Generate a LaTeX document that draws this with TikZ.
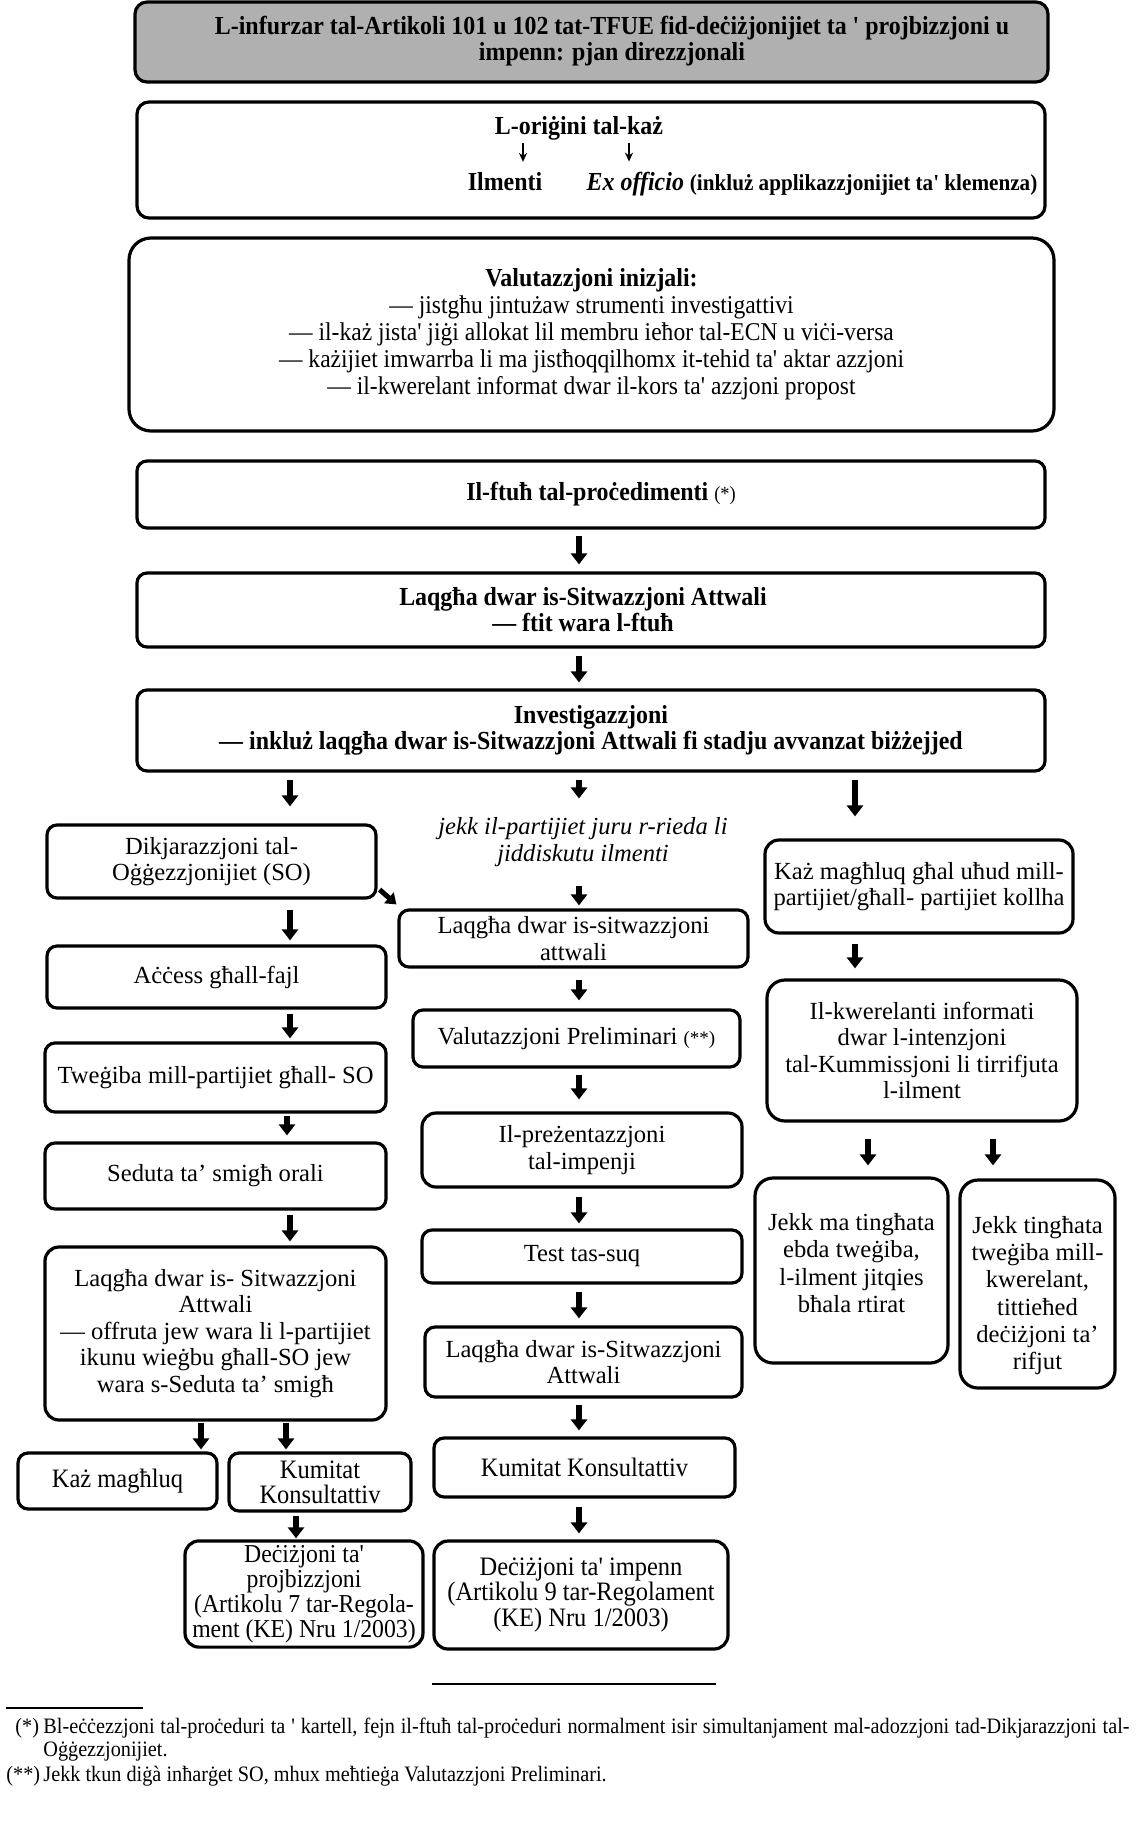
\documentclass[tikz,border=0pt]{standalone}
\usepackage{fontspec}
\setmainfont{Liberation Serif}
\newfontfamily\topfam[FakeStretch=0.92]{Liberation Serif}
\usetikzlibrary{arrows.meta}
\definecolor{titlegray}{RGB}{176,176,176}
\newcommand\myTopB{\topfam\bfseries\fontsize{13pt}{13pt}\selectfont}
\newcommand\myTopSB{\topfam\bfseries\fontsize{11.5pt}{13pt}\selectfont}
\newcommand\myTop{\topfam\mdseries\fontsize{12.8pt}{13.5pt}\selectfont}
\newcommand\myTopS{\topfam\mdseries\fontsize{10pt}{12pt}\selectfont}
\newcommand\myLow{\fontsize{12.3pt}{13.3pt}\selectfont}
\newcommand\myLowR{\fontsize{12.3pt}{13.6pt}\selectfont}
\newcommand\myLowI{\itshape\fontsize{12.3pt}{13.3pt}\selectfont}
\newcommand\myLowS{\fontsize{9.5pt}{12pt}\selectfont}
\newcommand\myBot{\topfam\fontsize{13.3pt}{12.6pt}\selectfont}
\newcommand\myBotS{\topfam\fontsize{12.9pt}{12.6pt}\selectfont}
\newcommand\myFoot{\topfam\fontsize{11pt}{12pt}\selectfont}
\begin{document}
\begin{tikzpicture}[x=0.5pt,y=-0.5pt,
  box/.style={draw, line width=1.6pt, rounded corners=5pt, align=center, inner sep=2pt},
  arr/.style={line width=3pt, -{Triangle[width=8pt,length=5.5pt]}},
  thinarr/.style={line width=0.8pt, -{Stealth[width=4pt,length=4.5pt]}},
  rulel/.style={line width=1pt}]
\fill[white] (0,0) rectangle (1135,1841);
\useasboundingbox (0,0) rectangle (1135,1841);

% column coordinates for arrows
\coordinate (xL) at (290,0);
\coordinate (xL3) at (287,0);
\coordinate (xKM) at (201,0);
\coordinate (xKK) at (286,0);
\coordinate (xDP) at (296,0);
\coordinate (xM) at (579,0);
\coordinate (xR) at (855,0);
\coordinate (xR3) at (868,0);
\coordinate (xR4) at (993,0);
\coordinate (xO1) at (523,0);
\coordinate (xO2) at (629,0);

% ---------- top section ----------
\node[box, fill=titlegray, rounded corners=6pt, minimum width=456.5pt, minimum height=40pt] (title) at (591.5,42) {};
\node[font=\myTopB, align=center] (titleT) at (612,41)
  {L-infurzar tal-Artikoli 101 u 102 tat-TFUE fid-deċiżjonijiet ta ' projbizzjoni u\\impenn: pjan direzzjonali};

\node[box, rounded corners=6pt, minimum width=454pt, minimum height=58pt] (orig) at (591,160) {};
\node[font=\myTopB, anchor=base] (origT) at (579,134) {L-oriġini tal-każ};
\node[font=\myTopB, anchor=base] (ilm) at (505,190) {Ilmenti};
\node[font=\myTopB, anchor=base] (exo) at (812,190) {\textit{Ex officio} {\myTopSB (inkluż applikazzjonijiet ta' klemenza)}};
\draw[thinarr, shorten <=-2pt, shorten >=1.5pt] (origT.south -| xO1) -- (ilm.north -| xO1);
\draw[thinarr, shorten <=-2pt, shorten >=1.5pt] (origT.south -| xO2) -- (exo.north -| xO2);

\node[box, rounded corners=11pt, minimum width=462.5pt, minimum height=96.5pt, font=\myTop] (init) at (591.5,334.5)
  {{\myTopB Valutazzjoni inizjali:}\\
   — jistgħu jintużaw strumenti investigattivi\\
   — il-każ jista' jiġi allokat lil membru ieħor tal-ECN u viċi-versa\\
   — każijiet imwarrba li ma jistħoqqilhomx it-tehid ta' aktar azzjoni\\
   — il-kwerelant informat dwar il-kors ta' azzjoni propost};

\node[box, minimum width=454pt, minimum height=33.5pt, font=\myTopB] (ftuh) at (591,494.5)
  {\hspace*{10pt}Il-ftuħ tal-proċedimenti {\myTopS (*)}};
\node[box, minimum width=454pt, minimum height=37pt, font=\myTopB] (laq1) at (591,610)
  {Laqgħa dwar is-Sitwazzjoni Attwali\hspace*{8pt}\\— ftit wara l-ftuħ\hspace*{8pt}};
\node[box, minimum width=454pt, minimum height=40.5pt, font=\myTopB] (inv) at (591,730.5)
  {Investigazzjoni\\— inkluż laqgħa dwar is-Sitwazzjoni Attwali fi stadju avvanzat biżżejjed};

\draw[arr, shorten <=3pt, shorten >=3.5pt] (ftuh.south -| xM) -- (laq1.north -| xM);
\draw[arr, shorten <=3.5pt, shorten >=3pt] (laq1.south -| xM) -- (inv.north -| xM);

% ---------- left column ----------
\node[box, minimum width=164.5pt, minimum height=36.5pt, font=\myLow] (L1) at (211.5,861.5)
  {Dikjarazzjoni tal-\\Oġġezzjonijiet (SO)};
\node[box, minimum width=169.5pt, minimum height=31pt, font=\myLow] (L2) at (216.5,977)
  {Aċċess għall-fajl};
\node[box, minimum width=170.5pt, minimum height=34.5pt, font=\myLow] (L3) at (215.5,1077.5)
  {Tweġiba mill-partijiet għall- SO};
\node[box, minimum width=170.5pt, minimum height=33pt, font=\myLow] (L4) at (215.5,1176)
  {Seduta ta' smigħ orali};
\node[box, rounded corners=7pt, minimum width=170.5pt, minimum height=86.5pt, font=\myLow] (L5) at (215.5,1333.5)
  {Laqgħa dwar is- Sitwazzjoni\\Attwali\\— offruta jew wara li l-partijiet\\ikunu wieġbu għall-SO jew\\wara s-Seduta ta' smigħ};
\node[box, minimum width=99.5pt, minimum height=28pt, font=\myBot] (KM) at (117.5,1481)
  {Każ magħluq};
\node[box, minimum width=91pt, minimum height=29pt, font=\myBot] (KK1) at (320,1482)
  {Kumitat\\Konsultattiv};
\node[box, rounded corners=7pt, minimum width=119pt, minimum height=53pt, font=\myBotS] (DP) at (304,1594)
  {Deċiżjoni ta'\\projbizzjoni\\(Artikolu 7 tar-Regola-\\ment (KE) Nru 1/2003)};

\draw[arr, shorten <=3.5pt, shorten >=8.5pt] (inv.south -| xL) -- (L1.north -| xL);
\draw[arr, shorten <=5pt, shorten >=2pt] (L1.south -| xL) -- (L2.north -| xL);
\draw[arr, shorten <=2pt, shorten >=1.5pt] (L2.south -| xL) -- (L3.north -| xL);
\draw[arr, shorten <=1pt, shorten >=3pt] (L3.south -| xL3) -- (L4.north -| xL3);
\draw[arr, shorten <=2pt, shorten >=2pt] (L4.south -| xL) -- (L5.north -| xL);
\draw[arr, shorten <=0.5pt, shorten >=1pt] (L5.south -| xKM) -- (KM.north -| xKM);
\draw[arr, shorten <=0.5pt, shorten >=1pt] (L5.south -| xKK) -- (KK1.north -| xKK);
\draw[arr, shorten <=1.5pt, shorten >=0.5pt] (KK1.south -| xDP) -- (DP.north -| xDP);

% ---------- middle column ----------
\node[font=\myLowI, align=center] (jekk) at (583,842)
  {jekk il-partijiet juru r-rieda li\\jiddiskutu ilmenti};
\node[box, minimum width=174.5pt, minimum height=28.5pt, font=\myLow] (M1) at (573.5,938.5)
  {Laqgħa dwar is-sitwazzjoni\\attwali};
\node[box, minimum width=163.5pt, minimum height=28.5pt, font=\myLow] (M2) at (576.5,1038.5)
  {Valutazzjoni Preliminari {\myLowS (**)}};
\node[box, rounded corners=7pt, minimum width=160pt, minimum height=37pt, font=\myLow] (M3) at (582,1150)
  {Il-preżentazzjoni\\tal-impenji};
\node[box, minimum width=160pt, minimum height=26.5pt, font=\myLow] (M4) at (582,1256.5)
  {Test tas-suq};
\node[box, minimum width=158.5pt, minimum height=35pt, font=\myLow] (M5) at (583.5,1362)
  {Laqgħa dwar is-Sitwazzjoni\\Attwali};
\node[box, minimum width=150.5pt, minimum height=29.5pt, font=\myBot] (M6) at (584.5,1467.5)
  {Kumitat Konsultattiv};
\node[box, rounded corners=7pt, minimum width=147pt, minimum height=54pt, font=\myBot] (M7) at (581,1595)
  {Deċiżjoni ta' impenn\\(Artikolu 9 tar-Regolament\\(KE) Nru 1/2003)};

\draw[arr, shorten <=3.5pt, shorten >=6pt] (inv.south -| xM) -- (jekk.north -| xM);
\draw[arr, shorten <=6pt, shorten >=1.5pt] (jekk.south -| xM) -- (M1.north -| xM);
\draw[arr, line width=2.5pt, -{Triangle[width=7pt,length=5pt]}, shorten <=0pt, shorten >=0pt]
  ([xshift=1pt,yshift=5pt]L1.south east) -- ([xshift=-0.5pt,yshift=2pt]M1.north west);
\draw[arr, shorten <=5.5pt, shorten >=4pt] (M1.south -| xM) -- (M2.north -| xM);
\draw[arr, shorten <=3pt, shorten >=6pt] (M2.south -| xM) -- (M3.north -| xM);
\draw[arr, shorten <=4pt, shorten >=2.5pt] (M3.south -| xM) -- (M4.north -| xM);
\draw[arr, shorten <=3.5pt, shorten >=3.5pt] (M4.south -| xM) -- (M5.north -| xM);
\draw[arr, shorten <=3pt, shorten >=3pt] (M5.south -| xM) -- (M6.north -| xM);
\draw[arr, shorten <=4pt, shorten >=3pt] (M6.south -| xM) -- (M7.north -| xM);

% ---------- right column ----------
\node[box, rounded corners=7pt, minimum width=154pt, minimum height=46.5pt, font=\myLow] (R1) at (919,886.5)
  {Każ magħluq għal uħud mill-\\partijiet/għall- partijiet kollha};
\node[box, rounded corners=9pt, minimum width=155pt, minimum height=70.5pt, font=\myLow] (R2) at (922,1050.5)
  {Il-kwerelanti informati\\dwar l-intenzjoni\\tal-Kummissjoni li tirrifjuta\\l-ilment};
\node[box, rounded corners=9pt, minimum width=96.5pt, minimum height=92.5pt, font=\myLowR] (R3) at (851.5,1270.5)
  {Jekk ma tingħata\\ebda tweġiba,\\l-ilment jitqies\\bħala rtirat\\[-6pt]};
\node[box, rounded corners=9pt, minimum width=77.5pt, minimum height=104pt, font=\myLowR] (R4) at (1037.5,1284)
  {\rule{0pt}{20pt}Jekk tingħata\\tweġiba mill-\\kwerelant,\\tittieħed\\deċiżjoni ta'\\rifjut};

\draw[arr, shorten <=3.5pt, shorten >=11pt] (inv.south -| xR) -- (R1.north -| xR);
\draw[arr, shorten <=4.5pt, shorten >=5pt] (R1.south -| xR) -- (R2.north -| xR);
\draw[arr, shorten <=8pt, shorten >=5.5pt] (R2.south -| xR3) -- (R3.north -| xR3);
\draw[arr, shorten <=8pt, shorten >=6.5pt] (R2.south -| xR4) -- (R4.north -| xR4);

% ---------- footnotes ----------
\draw[rulel] (432,1684) -- (716,1684);
\draw[rulel] (6,1708) -- (143,1708);
\node[font=\myFoot, anchor=base west, inner sep=0pt] (fn1m) at (15,1733) {(*)};
\node[font=\myFoot, anchor=base west, inner sep=0pt] (fn1a) at (43,1733)
  {\makebox[543pt][s]{Bl-eċċezzjoni tal-proċeduri ta ' kartell, fejn il-ftuħ tal-proċeduri normalment isir simultanjament mal-adozzjoni tad-Dikjarazzjoni tal-}};
\node[font=\myFoot, anchor=base west, inner sep=0pt] (fn1b) at (43,1756) {Oġġezzjonijiet.};
\node[font=\myFoot, anchor=base west, inner sep=0pt] (fn2m) at (6,1781) {(**)};
\node[font=\myFoot, anchor=base west, inner sep=0pt] (fn2) at (43,1781)
  {Jekk tkun diġà inħarġet SO, mhux meħtieġa Valutazzjoni Preliminari.};
\end{tikzpicture}
\end{document}
